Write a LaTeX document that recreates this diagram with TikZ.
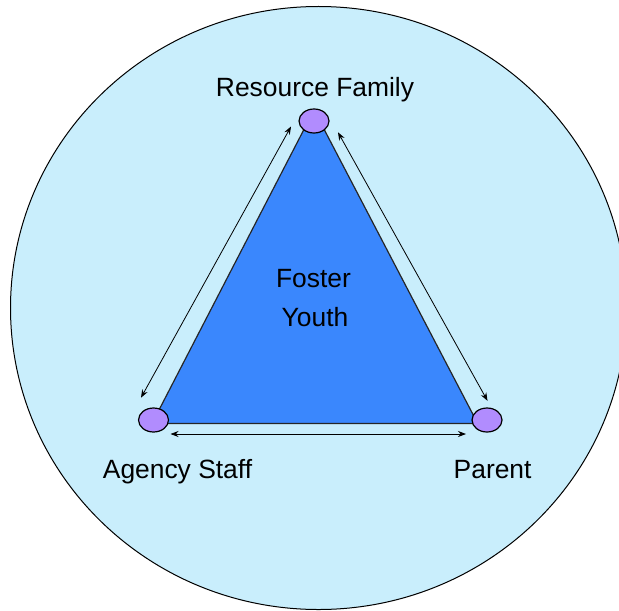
\documentclass[tikz,border=0pt]{standalone}
\usepackage{fontspec}
\setmainfont{Liberation Sans}
\usepackage{tikz}
\usetikzlibrary{shapes.geometric,arrows.meta}

\definecolor{ringblue}{RGB}{201,238,252}
\definecolor{youthblue}{RGB}{58,135,253}
\definecolor{rolepurple}{RGB}{177,140,254}

\tikzset{
  role/.style={ellipse, draw=black, fill=rolepurple, line width=0.6pt,
    minimum width=15pt, minimum height=12pt, inner sep=0pt},
  lbl/.style={font=\fontsize{13.2}{16}\selectfont, inner sep=0pt, anchor=base},
  link/.style={{Stealth[length=4pt,width=3pt]}-{Stealth[length=4pt,width=3pt]}, line width=0.4pt}
}

\begin{document}
\begin{tikzpicture}[x=0.5pt,y=-0.5pt]

\useasboundingbox (0,0) rectangle (619,610);
\clip (0,0) rectangle (619,610);

\draw[fill=ringblue, line width=0.5pt] (318.5,308) ellipse [x radius=308, y radius=301.5];

\draw[fill=youthblue, draw=black!85, line width=0.6pt] (314,110) -- (152,423.5) -- (477.7,423.5) -- cycle;
\node[lbl] (foster) at (313.5,287) {Foster};
\node[lbl] (youth) at (315,326) {Youth};

\node[role] (rf) at (314,121) {};
\node[role] (ag) at (153.5,420) {};
\node[role] (pa) at (487,420) {};

\node[lbl] (rf_lbl) at (315,96.7) {Resource Family};
\node[lbl] (ag_lbl) at (177.5,478) {Agency Staff};
\node[lbl] (pa_lbl) at (492.6,478) {Parent};

% ends of the two-way arrows
\coordinate (rf_l) at (291,126.5);
\coordinate (ag_u) at (141,397.7);
\coordinate (rf_r) at (338,132.3);
\coordinate (pa_u) at (487.5,400.8);
\coordinate (ag_r) at (170.5,434);
\coordinate (pa_l) at (466,434);

\draw[link] (rf_l) -- (ag_u);
\draw[link] (rf_r) -- (pa_u);
\draw[link] (ag_r) -- (pa_l);

\end{tikzpicture}
\end{document}
